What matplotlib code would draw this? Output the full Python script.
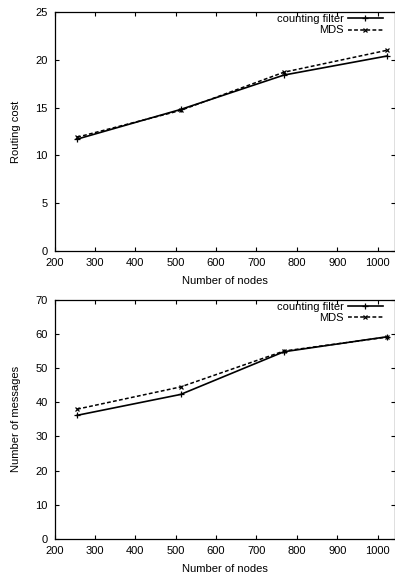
import matplotlib
matplotlib.use('Agg')
import matplotlib.pyplot as plt

plt.rcParams['font.family'] = ['Liberation Sans', 'DejaVu Sans']
plt.rcParams['font.size'] = 8

nodes = [256, 512, 768, 1024]

# routing cost
cost_cf = [11.7, 14.8, 18.4, 20.4]
cost_mds = [11.9, 14.7, 18.7, 21.0]

# number of messages
msg_cf = [36.2, 42.3, 54.8, 59.2]
msg_mds = [38.0, 44.5, 55.0, 59.1]

xticks = [200, 300, 400, 500, 600, 700, 800, 900, 1000]

fig = plt.figure(figsize=(3.95, 5.75), dpi=100)
ax1 = fig.add_axes([0.138, 0.5635, 0.861, 0.4157])
ax2 = fig.add_axes([0.138, 0.0626, 0.861, 0.416])


def draw(ax, cf, mds, ylim, yticks, ylabel):
    ax.plot(nodes, cf, color='black', lw=1.2, ls='-', marker='+', ms=4.5,
            mew=0.9, label='counting filter')
    ax.plot(nodes, mds, color='black', lw=1.1, ls=(0, (2.5, 1.5)), marker='x',
            ms=3.5, mew=0.9, label='MDS')
    ax.set_xlim(200, 1042)
    ax.set_ylim(*ylim)
    ax.set_xticks(xticks)
    ax.set_yticks(yticks)
    ax.tick_params(direction='in', top=True, right=True, length=3, width=0.8,
                   pad=5, labelsize=8)
    for s in ax.spines.values():
        s.set_linewidth(0.9)
    ax.set_xlabel('Number of nodes', labelpad=6)
    ax.set_ylabel(ylabel, labelpad=10)
    ax.legend(loc='upper right', bbox_to_anchor=(0.965, 0.99), frameon=False,
              markerfirst=False, handlelength=3.1, handletextpad=0.4,
              labelspacing=0.1, borderpad=0, borderaxespad=0, fontsize=8)


draw(ax1, cost_cf, cost_mds, (0, 25), [0, 5, 10, 15, 20, 25], 'Routing cost')
draw(ax2, msg_cf, msg_mds, (0, 70), [0, 10, 20, 30, 40, 50, 60, 70],
     'Number of messages')

fig.savefig('out.png', dpi=100)
